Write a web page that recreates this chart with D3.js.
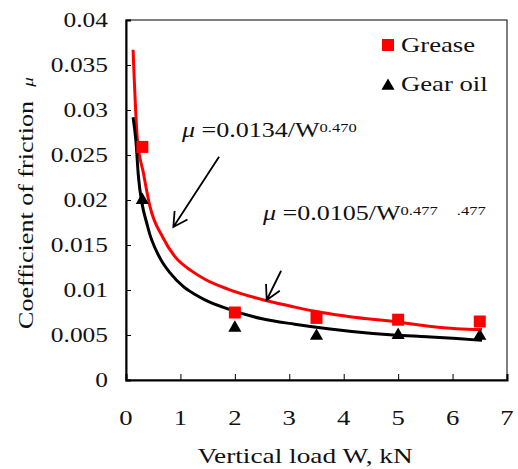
<!DOCTYPE html>
<html><head><meta charset="utf-8">
<script src="https://cdn.jsdelivr.net/npm/d3@7"></script>
<style>body{margin:0;background:#fff}svg{display:block}</style>
</head><body><svg id="c" width="518" height="469"></svg>
<script>
// ---- data ----
const xTicks = [0,1,2,3,4,5,6,7];
const yTicks = [0,0.005,0.01,0.015,0.02,0.025,0.03,0.035,0.04];
const yTickLabels = ["0","0.005","0.01","0.015","0.02","0.025","0.03","0.035","0.04"];
const loads = [0.3, 2, 3.5, 5, 6.5];
const greaseMu = [0.0259, 0.0075, 0.0069, 0.0067, 0.0065];
const gearMu = [0.0201, 0.0059, 0.0050, 0.0051, 0.0050];
// fitted curves
const greaseFitW  = [0.13,0.21,0.32,0.44,0.68,0.90,1.21,1.45,1.87,2.59,3.10,3.60,4.15,4.91,5.53,6.08,6.54];
const greaseFitMu = [0.0367,0.0267,0.0230,0.0193,0.0158,0.0137,0.0121,0.0112,0.0101,0.0088,0.0081,0.0075,0.0070,0.0065,0.0060,0.0057,0.0056];
const gearFitW  = [0.13,0.18,0.23,0.40,0.62,0.81,1.05,1.27,1.45,1.87,2.50,3.10,3.71,4.15,4.91,5.53,6.08,6.54];
const gearFitMu = [0.0292,0.0267,0.0225,0.0170,0.0136,0.0119,0.0104,0.0095,0.0089,0.0079,0.0068,0.0062,0.0057,0.0054,0.0050,0.0048,0.0046,0.0044];
const seriesNames = ["Grease","Gear oil"];

const FONT = "'Liberation Serif', serif";
const SX = 1.27; // horizontal stretch to mimic the wide serif face
const svg = d3.select("#c");
const L=126, T=20, R=507, B=380;
const x = d3.scaleLinear().domain([0,7]).range([L,R]);
const y = d3.scaleLinear().domain([0,0.04]).range([B,T]);

// stretched text helper
function stext(px, py, size, extra){
  return svg.append("text")
    .attr("transform",`translate(${px},${py})${extra||""} scale(${SX},1)`)
    .style("font-family",FONT).style("font-size",size+"px").attr("fill","#111");
}

// frame
svg.append("rect").attr("x",L).attr("y",T).attr("width",R-L).attr("height",B-T)
  .attr("fill","none").attr("stroke","#000").attr("stroke-width",1);

// axes (ticks from d3 axes, labels placed with the same scales)
const gy = svg.append("g").attr("transform",`translate(${L},0)`)
  .call(d3.axisLeft(y).tickValues(yTicks).tickSize(-5).tickFormat(""));
gy.select(".domain").attr("stroke-width",2);
yTicks.forEach((v,i)=>{ stext(L-18, y(v)+7, 20).attr("text-anchor","end").text(yTickLabels[i]); });

const gx = svg.append("g").attr("transform",`translate(0,${B})`)
  .call(d3.axisBottom(x).tickValues(xTicks).tickSize(-6).tickFormat(""));
gx.select(".domain").attr("stroke-width",2);
xTicks.forEach(v=>{ stext(x(v), 425, 21).attr("text-anchor","middle").text(d3.format("d")(v)); });

// curves
const line = d3.line().x(d=>x(d[0])).y(d=>y(d[1])).curve(d3.curveMonotoneX);
svg.append("path").datum(greaseFitW.map((w,i)=>[w,greaseFitMu[i]]))
  .attr("d",line).attr("fill","none").attr("stroke","#ff0000").attr("stroke-width",3);
svg.append("path").datum(gearFitW.map((w,i)=>[w,gearFitMu[i]]))
  .attr("d",line).attr("fill","none").attr("stroke","#000").attr("stroke-width",3);

// markers
const sq = d3.symbol().type(d3.symbolSquare).size(144);
const tri = d3.symbol().type(d3.symbolTriangle).size(75);
svg.append("g").selectAll("path").data(loads.map((w,i)=>[w,greaseMu[i]])).join("path")
  .attr("d",sq).attr("transform",d=>`translate(${x(d[0])},${y(d[1])})`).attr("fill","#ff0000");
svg.append("g").selectAll("path").data(loads.map((w,i)=>[w,gearMu[i]])).join("path")
  .attr("d",tri).attr("transform",d=>`translate(${x(d[0])},${y(d[1])+1})`).attr("fill","#000");

// legend
svg.append("path").attr("d",sq).attr("transform","translate(388,45)").attr("fill","#ff0000");
stext(401,52,21).text(seriesNames[0]);
svg.append("path").attr("d",tri).attr("transform","translate(388,86)").attr("fill","#000");
stext(401,91,21).text(seriesNames[1]);

// annotations
function eq(xp, yp, coef, exp, extra){
  const t = stext(xp, yp, 20.5);
  t.append("tspan").attr("font-style","italic").text("\u03bc");
  t.append("tspan").text(" =" + coef + "/W");
  t.append("tspan").attr("dy",-5).style("font-size","13px").text(exp);
  if(extra){ t.append("tspan").attr("dx",15).style("font-size","13px").text(extra); }
}
eq(182,137,"0.0134","0.470");
eq(263,220,"0.0105","0.477",".477");

function arrow(w0,m0,w1,m1){
  const x0=x(w0),y0=y(m0),x1=x(w1),y1=y(m1);
  const a=Math.atan2(y0-y1,x0-x1), hl=16, sp=0.5;
  svg.append("path").attr("d",
    `M${x0},${y0}L${x1},${y1}M${x1+hl*Math.cos(a+sp)},${y1+hl*Math.sin(a+sp)}L${x1},${y1}L${x1+hl*Math.cos(a-sp)},${y1+hl*Math.sin(a-sp)}`)
    .attr("fill","none").attr("stroke","#000").attr("stroke-width",1.8);
}
arrow(1.71,0.0248,0.87,0.0170);
arrow(2.85,0.01214,2.585,0.00889);

// axis titles
stext(305,463,21.5).attr("text-anchor","middle").text("Vertical load W, kN");
stext(33,215,20.5," rotate(-90)").attr("text-anchor","middle").text("Coefficient of friction");
stext(33,82,15," rotate(-90)").attr("text-anchor","middle").attr("font-style","italic").text("\u03bc");
</script></body></html>
